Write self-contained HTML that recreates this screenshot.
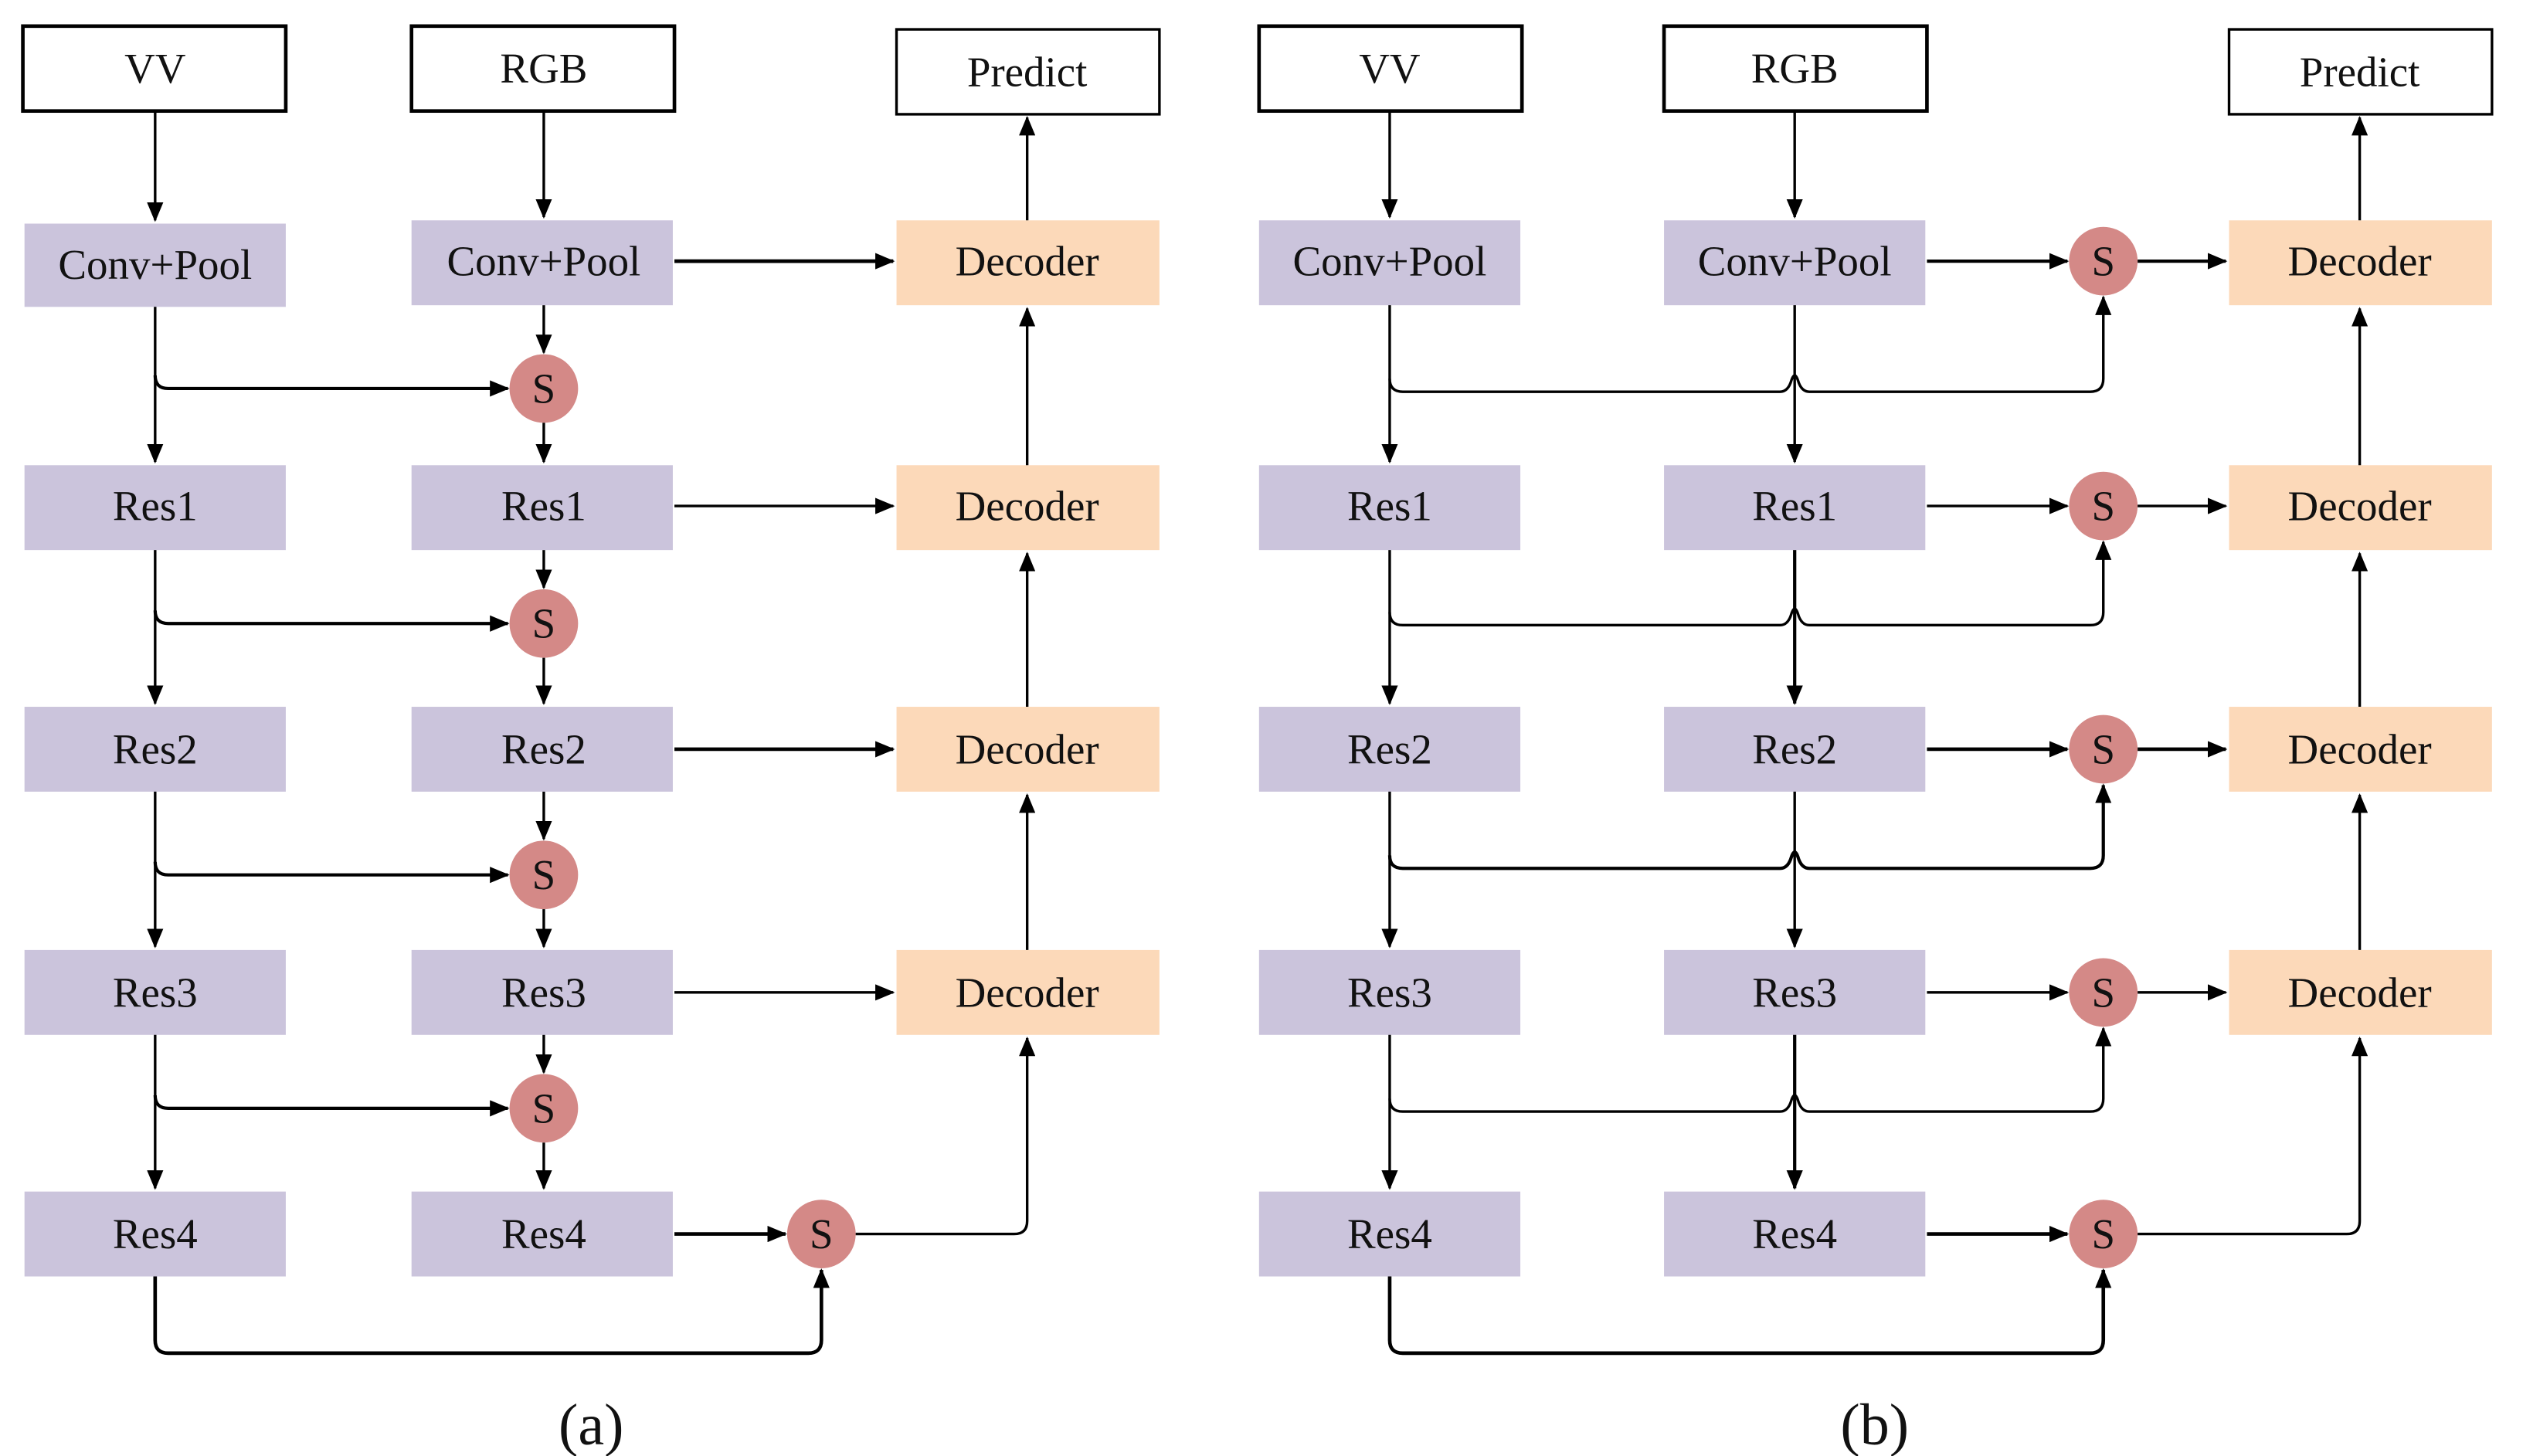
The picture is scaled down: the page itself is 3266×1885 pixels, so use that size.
<!DOCTYPE html>
<html><head><meta charset="utf-8"><style>
html,body{margin:0;padding:0;background:#fff;}
svg{display:block;}
text{font-family:"Liberation Serif",serif;font-size:26px;fill:#111;text-anchor:middle;dominant-baseline:central;}
</style></head><body>
<svg width="3266" height="1885" viewBox="0 0 1545 892" preserveAspectRatio="none" xmlns="http://www.w3.org/2000/svg">
<defs>
<marker id="a" markerUnits="userSpaceOnUse" markerWidth="12" markerHeight="10" refX="11" refY="5" orient="auto">
<path d="M0,0 L12,5 L0,10 Z" fill="#000"/></marker>
</defs>
<g fill="none" stroke="#000" stroke-width="1.8">
<!-- (a) -->
<rect x="14" y="16" width="161" height="52" stroke-width="2.2"/>
<rect x="252" y="16" width="161" height="52" stroke-width="2.2"/>
<rect x="549" y="18" width="161" height="52" stroke-width="1.6"/>
<!-- (b) -->
<rect x="771" y="16" width="161" height="52" stroke-width="2.2"/>
<rect x="1019" y="16" width="161" height="52" stroke-width="2.2"/>
<rect x="1365" y="18" width="161" height="52" stroke-width="1.6"/>
</g>
<g stroke="none">
<g fill="#cbc4dc">
<rect x="15" y="137" width="160" height="51"/><rect x="252" y="135" width="160" height="52"/>
<rect x="15" y="285" width="160" height="52"/><rect x="252" y="285" width="160" height="52"/>
<rect x="15" y="433" width="160" height="52"/><rect x="252" y="433" width="160" height="52"/>
<rect x="15" y="582" width="160" height="52"/><rect x="252" y="582" width="160" height="52"/>
<rect x="15" y="730" width="160" height="52"/><rect x="252" y="730" width="160" height="52"/>
<rect x="771" y="135" width="160" height="52"/><rect x="1019" y="135" width="160" height="52"/>
<rect x="771" y="285" width="160" height="52"/><rect x="1019" y="285" width="160" height="52"/>
<rect x="771" y="433" width="160" height="52"/><rect x="1019" y="433" width="160" height="52"/>
<rect x="771" y="582" width="160" height="52"/><rect x="1019" y="582" width="160" height="52"/>
<rect x="771" y="730" width="160" height="52"/><rect x="1019" y="730" width="160" height="52"/>
</g>
<g fill="#fcd9b9">
<rect x="549" y="135" width="161" height="52"/><rect x="549" y="285" width="161" height="52"/>
<rect x="549" y="433" width="161" height="52"/><rect x="549" y="582" width="161" height="52"/>
<rect x="1365" y="135" width="161" height="52"/><rect x="1365" y="285" width="161" height="52"/>
<rect x="1365" y="433" width="161" height="52"/><rect x="1365" y="582" width="161" height="52"/>
</g>
<g fill="#d48987">
<circle cx="333" cy="238" r="21"/><circle cx="333" cy="382" r="21"/><circle cx="333" cy="536" r="21"/><circle cx="333" cy="679" r="21"/><circle cx="503" cy="756" r="21"/>
<circle cx="1288" cy="160" r="21"/><circle cx="1288" cy="310" r="21"/><circle cx="1288" cy="459" r="21"/><circle cx="1288" cy="608" r="21"/><circle cx="1288" cy="756" r="21"/>
</g>
</g>
<g fill="none" stroke="#000" stroke-width="1.6" marker-end="url(#a)">
<!-- (a) -->
<path d="M95,68 V135"/><path d="M333,68 V133"/>
<path d="M413,160 H547" stroke-width="2.2"/><path d="M629,135 V72"/>
<path d="M333,187 V216"/><path d="M333,259 V283"/>
<path d="M95,188 V283"/><path d="M95,230 Q95,238 103,238 H311" stroke-width="2"/>
<path d="M413,310 H547"/><path d="M629,285 V189"/>
<path d="M95,337 V431"/><path d="M95,374 Q95,382 103,382 H311" stroke-width="2"/>
<path d="M333,337 V360"/><path d="M333,403 V431"/>
<path d="M413,459 H547" stroke-width="2.2"/><path d="M629,433 V339"/>
<path d="M95,485 V580"/><path d="M95,528 Q95,536 103,536 H311" stroke-width="2"/>
<path d="M333,485 V514"/><path d="M333,557 V580"/>
<path d="M413,608 H547"/><path d="M629,582 V487"/>
<path d="M95,634 V728"/><path d="M95,671 Q95,679 103,679 H311" stroke-width="2"/>
<path d="M333,634 V657"/><path d="M333,700 V728"/>
<path d="M413,756 H481" stroke-width="2.2"/>
<path d="M524,756 H621 Q629,756 629,748 V636"/>
<path d="M95,782 V821 Q95,829 103,829 H495 Q503,829 503,821 V778" stroke-width="2.2"/>
<!-- (b) -->
<path d="M851,68 V133"/><path d="M1099,68 V133"/>
<path d="M1445,135 V72"/>
<path d="M1180,160 H1266" stroke-width="2"/><path d="M1309,160 H1363" stroke-width="2"/>
<path d="M851,187 V283"/><path d="M1099,187 V283"/>
<path d="M851,232 Q851,240 859,240 H1090 Q1095,240 1097,233 Q1099,227 1101,233 Q1103,240 1108,240 H1280 Q1288,240 1288,232 V182"/>
<path d="M1180,310 H1266"/><path d="M1309,310 H1363"/><path d="M1445,285 V189"/>
<path d="M851,337 V431"/><path d="M1099,337 V431" stroke-width="2"/>
<path d="M851,375 Q851,383 859,383 H1090 Q1095,383 1097,376 Q1099,370 1101,376 Q1103,383 1108,383 H1280 Q1288,383 1288,375 V332"/>
<path d="M1180,459 H1266" stroke-width="2.2"/><path d="M1309,459 H1363" stroke-width="2.2"/><path d="M1445,433 V339"/>
<path d="M851,485 V580"/><path d="M1099,485 V580"/>
<path d="M851,524 Q851,532 859,532 H1090 Q1095,532 1097,525 Q1099,519 1101,525 Q1103,532 1108,532 H1280 Q1288,532 1288,524 V481" stroke-width="2"/>
<path d="M1180,608 H1266"/><path d="M1309,608 H1363"/><path d="M1445,582 V487"/>
<path d="M851,634 V728"/><path d="M1099,634 V728" stroke-width="2"/>
<path d="M851,673 Q851,681 859,681 H1090 Q1095,681 1097,674 Q1099,668 1101,674 Q1103,681 1108,681 H1280 Q1288,681 1288,673 V630"/>
<path d="M1180,756 H1266" stroke-width="2.2"/>
<path d="M1309,756 H1437 Q1445,756 1445,748 V636"/>
<path d="M851,782 V821 Q851,829 859,829 H1280 Q1288,829 1288,821 V778" stroke-width="2.2"/>
</g>
<g>
<text x="95" y="42">VV</text><text x="333" y="42">RGB</text><text x="629" y="44">Predict</text>
<text x="95" y="162">Conv+Pool</text><text x="333" y="160">Conv+Pool</text><text x="629" y="160">Decoder</text>
<text x="95" y="310">Res1</text><text x="333" y="310">Res1</text><text x="629" y="310">Decoder</text>
<text x="95" y="459">Res2</text><text x="333" y="459">Res2</text><text x="629" y="459">Decoder</text>
<text x="95" y="608">Res3</text><text x="333" y="608">Res3</text><text x="629" y="608">Decoder</text>
<text x="95" y="756">Res4</text><text x="333" y="756">Res4</text>
<text x="333" y="238">S</text><text x="333" y="382">S</text><text x="333" y="536">S</text><text x="333" y="679">S</text><text x="503" y="756">S</text>
<text x="851" y="42">VV</text><text x="1099" y="42">RGB</text><text x="1445" y="44">Predict</text>
<text x="851" y="160">Conv+Pool</text><text x="1099" y="160">Conv+Pool</text><text x="1445" y="160">Decoder</text>
<text x="851" y="310">Res1</text><text x="1099" y="310">Res1</text><text x="1445" y="310">Decoder</text>
<text x="851" y="459">Res2</text><text x="1099" y="459">Res2</text><text x="1445" y="459">Decoder</text>
<text x="851" y="608">Res3</text><text x="1099" y="608">Res3</text><text x="1445" y="608">Decoder</text>
<text x="851" y="756">Res4</text><text x="1099" y="756">Res4</text>
<text x="1288" y="160">S</text><text x="1288" y="310">S</text><text x="1288" y="459">S</text><text x="1288" y="608">S</text><text x="1288" y="756">S</text>
<text x="362" y="873" style="font-size:36px">(a)</text><text x="1148" y="873" style="font-size:36px">(b)</text>
</g>
</svg>
</body></html>
